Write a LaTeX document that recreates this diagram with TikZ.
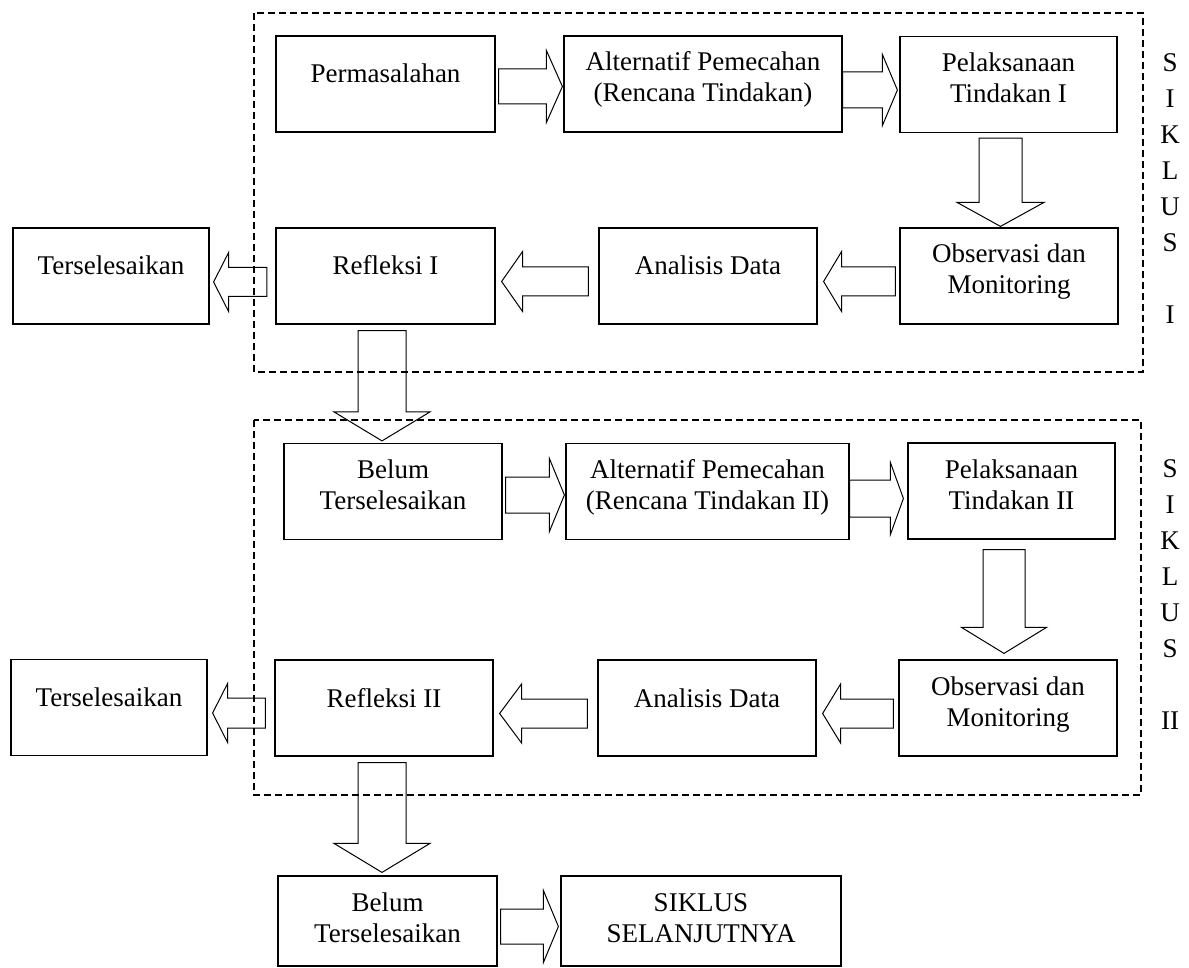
\documentclass[tikz,border=0pt]{standalone}
\usepackage{fontspec}
\setmainfont{Liberation Serif}
\usetikzlibrary{calc}
\tikzset{
  blok/.style={draw, line width=1.2pt, inner sep=0pt, align=flush center},
  satu/.style={text height=47pt, text depth=49pt},
  dua/.style={text height=35pt, text depth=61pt},
  bingkai/.style={dash pattern=on 7pt off 4pt, line width=1.2pt},
  siklus/.style={inner sep=0pt, text width=30pt, align=flush center, anchor=base,
    font=\fontsize{27pt}{36pt}\selectfont},
  panah/.style args={#1/#2/#3}{line width=1pt, to path={let \p1=(\tikztostart), \p2=(\tikztotarget), \n1={sign(\x2-\x1)} in
    (\x1,\y1+#1pt) -- (\x2-\n1*#3pt,\y1+#1pt) -- (\x2-\n1*#3pt,\y1+#2pt) -- (\x2,\y1)
    -- (\x2-\n1*#3pt,\y1-#2pt) -- (\x2-\n1*#3pt,\y1-#1pt) -- (\x1,\y1-#1pt) -- cycle}},
  turun/.style args={#1/#2/#3}{line width=1pt, to path={let \p1=(\tikztostart), \p2=(\tikztotarget), \n1={sign(\y2-\y1)} in
    (\x1+#1pt,\y1) -- (\x1+#1pt,\y2-\n1*#3pt) -- (\x1+#2pt,\y2-\n1*#3pt) -- (\x1,\y2)
    -- (\x1-#2pt,\y2-\n1*#3pt) -- (\x1-#1pt,\y2-\n1*#3pt) -- (\x1-#1pt,\y1) -- cycle}},
}
\begin{document}
\begin{tikzpicture}[x=1pt, y=-1pt, font=\fontsize{27pt}{31pt}\selectfont]
  \useasboundingbox (0,0) rectangle (1189,968);
  \draw[bingkai] (254,13) rectangle (1143,372);
  \draw[bingkai] (254,420) rectangle (1141,795);

  \node[blok, satu, text width=219pt] (perm) at (385.5,84) {Permasalahan};
  \node[blok, dua, text width=278pt] (alt1) at (703,84) {Alternatif Pemecahan\\(Rencana Tindakan)};
  \node[blok, dua, text width=217pt] (pel1) at (1008.5,84.5) {Pelaksanaan\\Tindakan I};
  \node[blok, satu, text width=196pt] (tsl1) at (111,276) {Terselesaikan};
  \node[blok, satu, text width=219pt] (ref1) at (385.5,276) {Refleksi I};
  \node[blok, satu, text width=218pt] (ana1) at (708,276) {Analisis Data};
  \node[blok, dua, text width=218pt] (obs1) at (1009,276) {Observasi dan\\Monitoring};
  \node[siklus] (sik1) at (1170,72) {S\\I\\K\\L\\U\\S\\[36pt]I};

  \node[blok, dua, text width=218pt] (bel1) at (393,491.5) {Belum\\Terselesaikan};
  \node[blok, dua, text width=283pt] (alt2) at (707.5,491.5) {Alternatif Pemecahan\\(Rencana Tindakan II)};
  \node[blok, dua, text width=207pt] (pel2) at (1011.5,491) {Pelaksanaan\\Tindakan II};
  \node[blok, satu, text width=196pt] (tsl2) at (109,707.5) {Terselesaikan};
  \node[blok, satu, text width=218pt] (ref2) at (384,708) {Refleksi II};
  \node[blok, satu, text width=218pt] (ana2) at (707,708) {Analisis Data};
  \node[blok, dua, text width=218pt] (obs2) at (1008,708) {Observasi dan\\Monitoring};
  \node[siklus] (sik2) at (1170,477) {S\\I\\K\\L\\U\\S\\[36pt]II};

  \node[blok, dua, text depth=55pt, text width=219pt] (bel2) at (387.5,921) {Belum\\Terselesaikan};
  \node[blok, dua, text depth=55pt, text width=280pt] (next) at (701,921) {SIKLUS\\SELANJUTNYA};

  \draw[panah=17.5/36/16] ([shift={(3,2.5)}]perm.east) to ([xshift=-1pt]alt1.west);
  \draw[panah=18/35.5/15] ([shift={(0,6)}]alt1.east) to ([xshift=-2pt]pel1.west);
  \draw[turun=21.5/43.5/24] ([shift={(-8,5)}]pel1.south) to ([shift={(0,-1)}]obs1.north);
  \draw[panah=14.5/30/18] ([shift={(-4,5.5)}]obs1.west) to ([xshift=6pt]ana1.east);
  \draw[panah=14.5/30/21] ([shift={(-10,5.5)}]ana1.west) to ([xshift=6pt]ref1.east);
  \draw[panah=14.5/29.5/15] ([shift={(-8.5,6)}]ref1.west) to ([xshift=4pt]tsl1.east);
  \draw[turun=24/48/29] ([shift={(-3.5,6)}]ref1.south) to ([shift={(0,-2)}]bel1.north);

  \draw[panah=18/36.5/15] ([shift={(3,3.5)}]bel1.east) to ([xshift=-1pt]alt2.west);
  \draw[panah=18.5/36/13] ([shift={(0,7)}]alt2.east) to ([xshift=-4pt]pel2.west);
  \draw[turun=21/42.5/26] ([shift={(-7.5,10)}]pel2.south) to ([shift={(0,-6)}]obs2.north);
  \draw[panah=14.5/29.5/18] ([shift={(-5,5.5)}]obs2.west) to ([xshift=6pt]ana2.east);
  \draw[panah=14.5/29.5/22] ([shift={(-10,5.5)}]ana2.west) to ([xshift=6pt]ref2.east);
  \draw[panah=15/29.5/15] ([shift={(-9,5)}]ref2.west) to ([xshift=5pt]tsl2.east);
  \draw[turun=24/48/29] ([shift={(-2,6)}]ref2.south) to ([shift={(0,-3)}]bel2.north);
  \draw[panah=17.5/36/15] ([shift={(3,5.5)}]bel2.east) to ([xshift=-2pt]next.west);
\end{tikzpicture}
\end{document}
